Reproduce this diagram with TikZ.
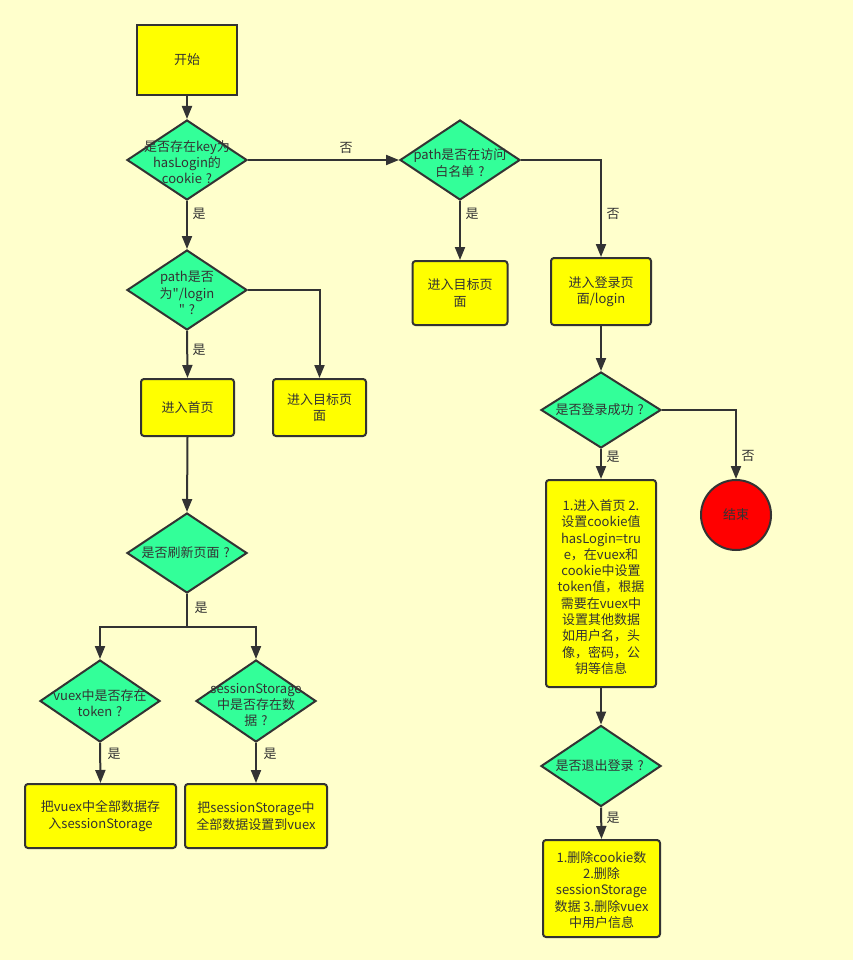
\documentclass[tikz,border=0pt]{standalone}
\usepackage{fontspec}
\setmainfont{Noto Sans CJK SC}[Ligatures=TeXOff]
\usetikzlibrary{arrows.meta,shapes.geometric}
\definecolor{bg}{HTML}{FFFFCC}
\definecolor{boxy}{HTML}{FFFF00}
\definecolor{dgreen}{HTML}{33FF99}
\definecolor{edgec}{HTML}{333333}
\newcommand\qmk{\hspace{0.3em}?\hspace{0.2em}}
\begin{document}
\begin{tikzpicture}[x=1pt,y=-1pt,
  box/.style={draw=edgec, line width=2pt, fill=boxy, rounded corners=3pt, inner sep=0pt},
  dia/.style={diamond, draw=edgec, line width=2pt, fill=dgreen, inner sep=0pt, minimum width=120pt, minimum height=80pt},
  txt/.style={font=\fontsize{13}{16.3}\selectfont, text=edgec, align=center, inner sep=0pt},
  lab/.style={font=\fontsize{13}{14}\selectfont, text=edgec, inner sep=0pt},
  arr/.style={draw=edgec, line width=2pt, -{Triangle[length=13pt,width=10pt]}},
  ln/.style={draw=edgec, line width=2pt}]
\fill[bg] (0,0) rectangle (853,960);
\useasboundingbox (0,0) rectangle (853,960);

% nodes
\node[box, rounded corners=0pt, minimum width=100pt, minimum height=70pt] (start) at (187,60) {};
\node[txt] (startT) at (start) {开始};

\node[dia] (d1) at (187,160) {};
\node[txt] (d1T) at (187,162) {是否存在key为\\hasLogin的\\cookie\qmk};

\node[dia] (d2) at (460,160) {};
\node[txt] (d2T) at (460,163) {path是否在访问\\白名单\qmk};

\node[dia] (d3) at (187,290) {};
\node[txt] (d3T) at (187,293) {path是否\\为"/login\\"\qmk};

\node[box, minimum width=95pt, minimum height=64pt] (tgt1) at (460,293) {};
\node[txt] (tgt1T) at (tgt1) {进入目标页\\面};

\node[box, minimum width=100pt, minimum height=67pt] (login) at (601,291.5) {};
\node[txt] (loginT) at (login) {进入登录页\\面/login};

\node[box, minimum width=93pt, minimum height=57pt] (home) at (187.5,407.5) {};
\node[txt] (homeT) at (home) {进入首页};

\node[box, minimum width=93pt, minimum height=57pt] (tgt2) at (319.5,407.5) {};
\node[txt] (tgt2T) at (tgt2) {进入目标页\\面};

\node[dia, minimum height=76pt] (d4) at (601,410) {};
\node[txt] (d4T) at (d4) {是否登录成功\qmk};

\node[circle, draw=edgec, line width=2pt, fill=red, minimum size=70pt, inner sep=0pt] (endc) at (736,515) {};
\node[txt] (endT) at (endc) {结束};

\node[box, minimum width=110pt, minimum height=207pt] (big) at (601,583.5) {};
\node[txt] (bigT) at (601,587) {1.进入首页 2.\\设置cookie值\\hasLogin=tru\\e，在vuex和\\cookie中设置\\token值，根据\\需要在vuex中\\设置其他数据\\如用户名，头\\像，密码，公\\钥等信息};

\node[dia] (d5) at (187,553) {};
\node[txt] (d5T) at (d5) {是否刷新页面\qmk};

\node[dia, minimum height=82pt] (d6) at (100,701) {};
\node[txt] (d6T) at (100,703) {vuex中是否存在\\token\qmk};

\node[dia, minimum height=82pt] (d7) at (256,701) {};
\node[txt] (d7T) at (256,705) {sessionStorage\\中是否存在数\\据\qmk};

\node[box, minimum width=151pt, minimum height=64pt] (b1) at (100.5,816) {};
\node[txt] (b1T) at (b1) {把vuex中全部数据存\\入sessionStorage};

\node[box, minimum width=142pt, minimum height=64pt] (b2) at (256,816) {};
\node[txt] (b2T) at (b2) {把sessionStorage中\\全部数据设置到vuex};

\node[dia, minimum height=81pt] (d8) at (601,766) {};
\node[txt] (d8T) at (d8) {是否退出登录\qmk};

\node[box, minimum width=117pt, minimum height=97pt] (fin) at (601.5,888.5) {};
\node[txt] (finT) at (601.5,890) {1.删除cookie数\\2.删除\\sessionStorage\\数据 3.删除vuex\\中用户信息};

% connectors
\draw[arr] (start.south) -- (d1.north);
\draw[arr] (d1.east) -- (d2.west);
\node[lab] (l1) at (346,148) {否};
\draw[arr] (d1.south) -- (d3.north);
\node[lab] (l2) at (199,214) {是};
\draw[arr] (d2.south) -- (tgt1.north);
\node[lab] (l3) at (472,214) {是};
\draw[arr] (d2.east) -| (login.north);
\node[lab] (l4) at (613,214) {否};
\draw[arr] (d3.south) -- (home.north);
\node[lab] (l5) at (199,350) {是};
\draw[arr] (d3.east) -| (tgt2.north);
\draw[arr] (home.south) -- (d5.north);
\coordinate (split) at (187,627);
\draw[ln] (d5.south) -- (split);
\draw[arr] (split) -| (d6.north);
\draw[arr] (split) -| (d7.north);
\node[lab] (l6) at (201,608) {是};
\draw[arr] (d6.south) -- (b1.north);
\node[lab] (l7) at (114,754) {是};
\draw[arr] (d7.south) -- (b2.north);
\node[lab] (l8) at (270,754) {是};
\draw[arr] (login.south) -- (d4.north);
\draw[arr] (d4.east) -| (endc.north);
\node[lab] (l9) at (748,456) {否};
\draw[arr] (d4.south) -- (big.north);
\node[lab] (l10) at (613,457) {是};
\draw[arr] (big.south) -- (d8.north);
\draw[arr] (d8.south) -- (fin.north);
\node[lab] (l11) at (613,818) {是};
\end{tikzpicture}
\end{document}
